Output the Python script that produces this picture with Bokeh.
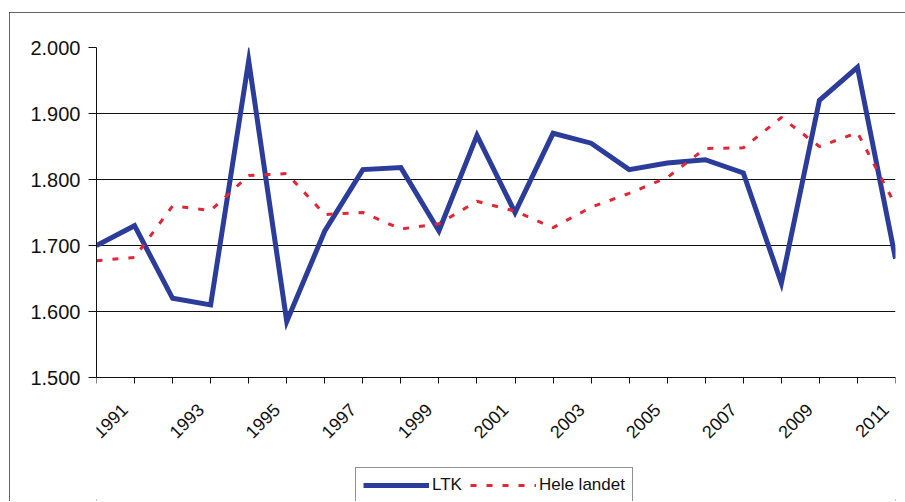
import math
from bokeh.plotting import figure
from bokeh.models import (Range1d, FixedTicker, Legend, LegendItem, LinearAxis,
                          CustomJSTickFormatter)
from bokeh.embed import file_html
from bokeh.resources import INLINE

years = list(range(1990, 2012))
ltk = [1700, 1730, 1620, 1610, 1980, 1585, 1722, 1815, 1818, 1722, 1867,
       1750, 1870, 1855, 1815, 1825, 1830, 1810, 1643, 1920, 1970, 1680]
hele_landet = [1677, 1682, 1760, 1753, 1806, 1809, 1747, 1750, 1725, 1733, 1767,
               1752, 1727, 1758, 1779, 1803, 1847, 1848, 1894, 1850, 1871, 1761]
y_ticks = [1500, 1600, 1700, 1800, 1900, 2000]
y_tick_labels = ["1.500", "1.600", "1.700", "1.800", "1.900", "2.000"]
labelled_years = [y for y in years if y % 2 == 1]

FONT = "Liberation Sans"
Y_MIN, Y_MAX = 1500, 2000
FRAME_W = 799
PX_PER_UNIT = 330 / (Y_MAX - Y_MIN)
EXTRA_PX = 124  # room below the axis, inside the frame, for labels and legend
LABEL_SHIFT = 10 * (years[-1] - years[0]) / FRAME_W  # rotated labels sit a bit left of ticks

p = figure(frame_width=FRAME_W, frame_height=330 + EXTRA_PX, output_backend="svg",
           toolbar_location=None,
           x_range=Range1d(years[0], years[-1]),
           y_range=Range1d(Y_MIN - EXTRA_PX / PX_PER_UNIT, Y_MAX),
           min_border_left=87, min_border_top=35, min_border_right=10,
           min_border_bottom=0)
p.margin = (12, 0, 0, 9)
p.styles = {"outline": "2px solid #333333", "outline-offset": "-2px"}
p.outline_line_color = None
p.background_fill_color = "white"
p.border_fill_color = "white"

r1 = p.line(years, ltk, line_color="#2B3C9B", line_width=5, line_join="miter")
r2 = p.line(years, hele_landet, line_color="#E32636", line_width=3, line_dash="6 10")

p.xgrid.grid_line_color = None
p.ygrid.grid_line_color = "#111111"
p.ygrid.grid_line_width = 1
p.ygrid.ticker = FixedTicker(ticks=y_ticks)

p.yaxis.ticker = FixedTicker(ticks=y_ticks)
p.yaxis.bounds = (Y_MIN, Y_MAX)
p.yaxis.major_label_overrides = dict(zip(y_ticks, y_tick_labels))
p.yaxis.major_label_text_font = FONT
p.yaxis.major_label_text_font_size = "20px"
p.yaxis.major_label_text_color = "#111111"
p.yaxis.major_tick_out = 8
p.yaxis.major_tick_in = 0
p.yaxis.minor_tick_line_color = None
p.yaxis.major_label_standoff = 8
p.yaxis.axis_line_color = "#111111"
p.yaxis.major_tick_line_color = "#111111"

# main x axis: line and tick marks only
xa = p.xaxis[0]
xa.fixed_location = Y_MIN
xa.bounds = (years[0], years[-1])
xa.ticker = FixedTicker(ticks=years)
xa.major_label_overrides = {y: "" for y in years}
xa.major_tick_out = 6
xa.major_tick_in = 0
xa.minor_tick_line_color = None
xa.axis_line_color = "#111111"
xa.major_tick_line_color = "#111111"

# second x axis: the rotated year labels
label_axis = LinearAxis(
    fixed_location=Y_MIN,
    ticker=FixedTicker(ticks=[y - LABEL_SHIFT for y in labelled_years]),
    formatter=CustomJSTickFormatter(args=dict(shift=LABEL_SHIFT),
                                    code="return String(Math.round(tick + shift));"),
    major_label_orientation=math.pi / 4,
    major_label_text_font=FONT,
    major_label_text_font_size="18px",
    major_label_text_color="#111111",
    major_label_standoff=29,
    major_tick_out=0, major_tick_in=0,
    major_tick_line_color=None, minor_tick_line_color=None,
    axis_line_color=None,
)
p.add_layout(label_axis, "below")

legend = Legend(items=[LegendItem(label="LTK", renderers=[r1]),
                       LegendItem(label="Hele landet", renderers=[r2])],
                orientation="horizontal", location=(259, -2))
legend.label_text_font = FONT
legend.label_text_font_size = "17px"
legend.label_text_color = "#111111"
legend.glyph_width = 66
legend.glyph_height = 20
legend.label_standoff = 3
legend.spacing = 8
legend.padding = 7
legend.margin = 0
legend.border_line_color = "#222222"
legend.border_line_width = 1
legend.background_fill_alpha = 1
p.add_layout(legend, "center")

open("out.html", "w").write(file_html(p, INLINE))
